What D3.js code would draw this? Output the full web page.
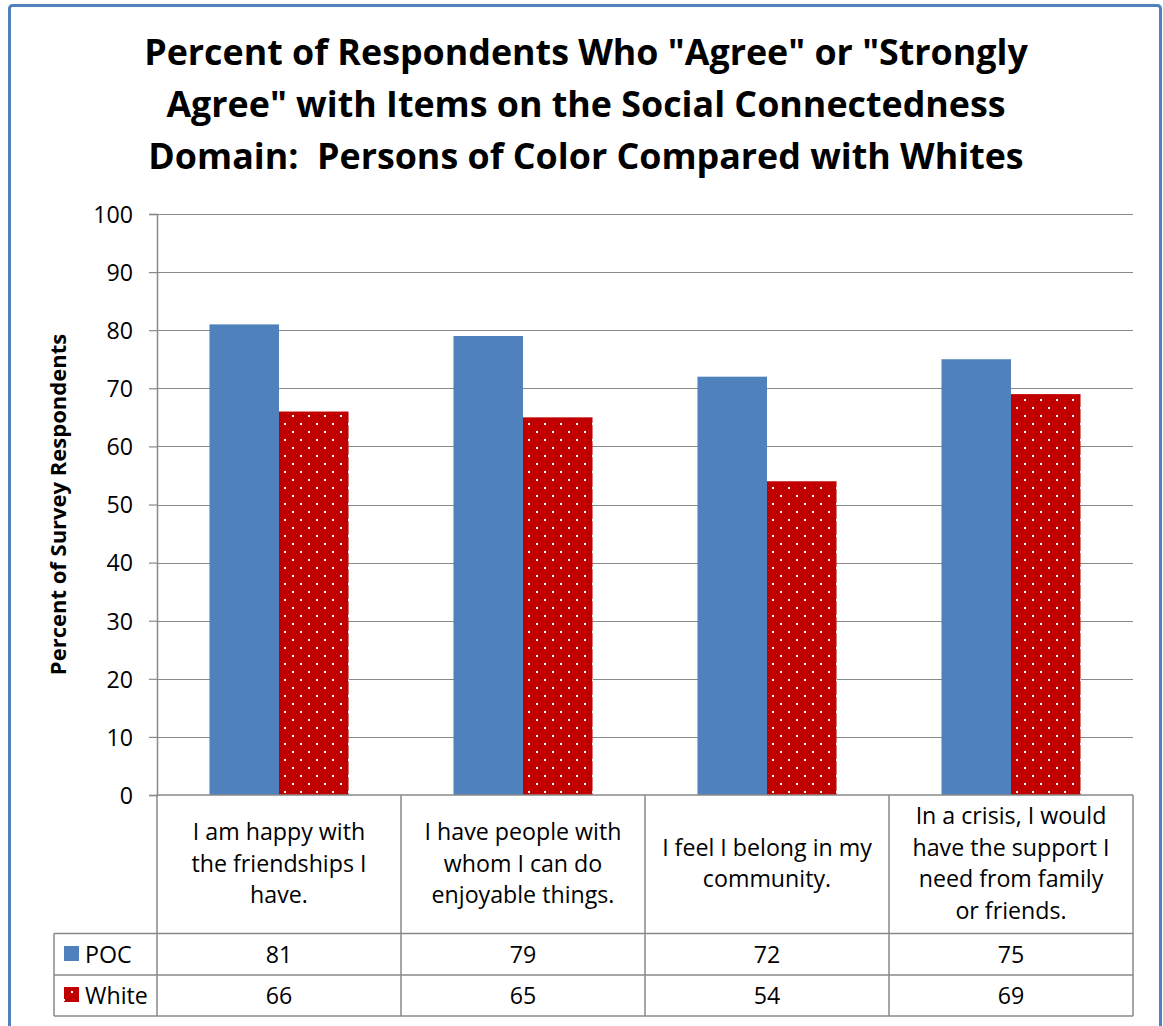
<!DOCTYPE html>
<html>
<head>
<meta charset="utf-8">
<script src="https://cdn.jsdelivr.net/npm/d3@7"></script>
<style>
  html, body { margin: 0; padding: 0; background: #fff; }
  svg { display: block; }
  text { font-family: "Open Sans", Lato, sans-serif; fill: #000; white-space: pre; }
</style>
</head>
<body>
<svg id="chart" width="1163" height="1026"></svg>
<script>
// ---- data ----
const titleLines = [
  'Percent of Respondents Who "Agree" or "Strongly',
  'Agree" with Items on the Social Connectedness',
  'Domain:  Persons of Color Compared with Whites'
];
const categories = [
  "I am happy with\nthe friendships I\nhave.",
  "I have people with\nwhom I can do\nenjoyable things.",
  "I feel I belong in my\ncommunity.",
  "In a crisis, I would\nhave the support I\nneed from family\nor friends."
];
const seriesNames = ["POC", "White"];
const pocValues = [81, 79, 72, 75];
const whiteValues = [66, 65, 54, 69];
const yTicks = [0, 10, 20, 30, 40, 50, 60, 70, 80, 90, 100];
const yLabel = "Percent of Survey Respondents";

// ---- layout ----
const plot = { left: 157, right: 1133, top: 214, bottom: 795 };
const table = { legendLeft: 54, headerBottom: 933.5, row1Bottom: 975, row2Bottom: 1016 };
const gridColor = "#898989";
const blue = "#4F81BD", red = "#C00000";
const bodySize = 23.2;

const svg = d3.select("#chart");
const defs = svg.append("defs");

// white dotted fill for the White series
const pat = defs.append("pattern")
  .attr("id", "dots").attr("patternUnits", "userSpaceOnUse")
  .attr("width", 16).attr("height", 16);
pat.append("rect").attr("width", 16).attr("height", 16).attr("fill", red);
[[7, 15], [7, -1], [15, 7], [-1, 7]].forEach(([px, py]) =>
  pat.append("rect").attr("x", px).attr("y", py).attr("width", 2).attr("height", 2).attr("fill", "#fff"));

const fills = { POC: blue, White: "url(#dots)" };

// frame
svg.append("rect")
  .attr("x", 9.5).attr("y", 5.5).attr("width", 1151).attr("height", 1060)
  .attr("rx", 3)
  .attr("fill", "#fff").attr("stroke", blue).attr("stroke-width", 3);

// title
svg.append("g").selectAll("text").data(titleLines).join("text")
  .attr("x", 586).attr("y", (d, i) => 65 + i * 52)
  .attr("text-anchor", "middle")
  .attr("font-weight", "bold").attr("font-size", 35.8)
  .text(d => d);

// scales
const y = d3.scaleLinear().domain([0, 100]).range([plot.bottom, plot.top]);
const x0 = d3.scaleBand().domain(d3.range(categories.length))
  .range([plot.left, plot.right]).paddingInner(0).paddingOuter(0);
const x1 = d3.scaleBand().domain(seriesNames)
  .range([0, x0.bandwidth()]).paddingInner(0).paddingOuter(0.755);

// gridlines
svg.append("g").selectAll("line").data(yTicks.filter(t => t > 0)).join("line")
  .attr("x1", plot.left).attr("x2", plot.right)
  .attr("y1", d => Math.round(y(d)) + 0.5).attr("y2", d => Math.round(y(d)) + 0.5)
  .attr("stroke", gridColor).attr("stroke-width", 1.2);

// y axis
const yAxis = svg.append("g")
  .attr("transform", `translate(${plot.left},0)`)
  .call(d3.axisLeft(y).tickValues(yTicks).tickSize(8).tickPadding(16).tickFormat(d3.format("d")));
yAxis.select(".domain").attr("stroke", gridColor).attr("stroke-width", 1.5);
yAxis.selectAll(".tick line").attr("stroke", gridColor).attr("stroke-width", 1.2);
yAxis.selectAll(".tick text")
  .attr("font-family", "'Open Sans', sans-serif").attr("font-size", bodySize).attr("fill", "#000")
  .attr("dy", "0.36em");

// y axis title
svg.append("text")
  .attr("transform", `translate(66,${(plot.top + plot.bottom) / 2}) rotate(-90)`)
  .attr("text-anchor", "middle").attr("font-weight", "bold").attr("font-size", 22)
  .text(yLabel);

// bars
const rows = categories.map((c, i) => ({ i, POC: pocValues[i], White: whiteValues[i] }));
const groups = svg.append("g").selectAll("g").data(rows).join("g")
  .attr("transform", d => `translate(${x0(d.i)},0)`);
groups.selectAll("rect")
  .data(d => seriesNames.map(s => ({ s, v: d[s] })))
  .join("rect")
  .attr("x", d => x1(d.s)).attr("width", x1.bandwidth())
  .attr("y", d => y(d.v)).attr("height", d => y(0) - y(d.v))
  .attr("fill", d => fills[d.s]);

// data table
const tg = svg.append("g").attr("stroke", gridColor).attr("stroke-width", 1.5).attr("fill", "none");
const colEdges = d3.range(categories.length + 1).map(i => i < categories.length ? x0(i) : plot.right);
tg.append("line").attr("x1", plot.left).attr("x2", plot.right).attr("y1", plot.bottom).attr("y2", plot.bottom);
[table.headerBottom, table.row1Bottom, table.row2Bottom].forEach(yy =>
  tg.append("line").attr("x1", table.legendLeft).attr("x2", plot.right).attr("y1", yy).attr("y2", yy));
colEdges.forEach(xx =>
  tg.append("line").attr("x1", xx).attr("x2", xx).attr("y1", plot.bottom).attr("y2", table.row2Bottom));
tg.append("line").attr("x1", table.legendLeft).attr("x2", table.legendLeft)
  .attr("y1", table.headerBottom).attr("y2", table.row2Bottom);

// category labels
const lineH = 31.7, labelMid = 871.5;
svg.append("g").selectAll("text").data(categories).join("text")
  .attr("text-anchor", "middle").attr("font-size", bodySize)
  .each(function (d, i) {
    const lines = d.split("\n");
    const cx = x0(i) + x0.bandwidth() / 2;
    const y0 = labelMid - (lines.length - 1) * lineH / 2;
    d3.select(this).selectAll("tspan").data(lines).join("tspan")
      .attr("x", cx).attr("y", (l, k) => y0 + k * lineH).text(l => l);
  });

// value rows with legend keys
const tableRows = [
  { name: "POC", values: pocValues, base: 962.5 },
  { name: "White", values: whiteValues, base: 1003.5 }
];
tableRows.forEach(r => {
  svg.append("rect").attr("x", 64).attr("y", r.base - 16.5).attr("width", 15).attr("height", 15)
    .attr("fill", fills[r.name]);
  svg.append("text").attr("x", 85).attr("y", r.base).attr("font-size", bodySize).text(r.name);
  svg.append("g").selectAll("text").data(r.values).join("text")
    .attr("x", (v, i) => x0(i) + x0.bandwidth() / 2).attr("y", r.base)
    .attr("text-anchor", "middle").attr("font-size", bodySize)
    .text(v => v);
});
</script>
</body>
</html>
